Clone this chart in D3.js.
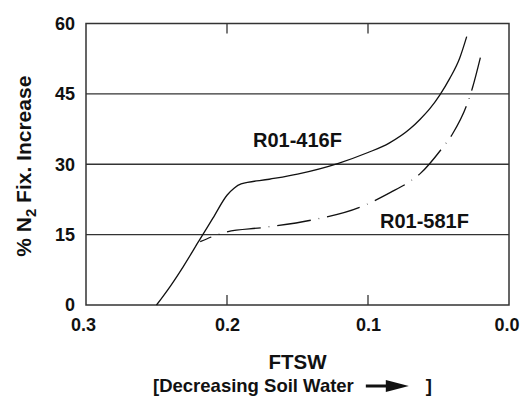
<!DOCTYPE html>
<html><head><meta charset="utf-8">
<script src="https://cdn.jsdelivr.net/npm/d3@7"></script>
<style>body{margin:0;background:#fff}svg{display:block}text{font-family:"Liberation Sans",Arial,sans-serif;font-weight:bold;fill:#111}</style>
</head><body>
<svg id="c" width="520" height="397"></svg>
<script>
const xTicks = [0.3, 0.2, 0.1, 0.0];
const yTicks = [0, 15, 30, 45, 60];
const xTickLabels = ["0.3", "0.2", "0.1", "0.0"];
const seriesNames = ["R01-416F", "R01-581F"];
const ftsw416 = [0.25, 0.24, 0.231, 0.22, 0.21, 0.2, 0.195, 0.19, 0.17, 0.15, 0.121, 0.1, 0.085, 0.07, 0.063, 0.056, 0.049, 0.042, 0.035, 0.03];
const val416  = [0, 4.1, 8.2, 13.6, 18.5, 23.4, 24.9, 25.8, 26.8, 27.9, 30.2, 32.5, 34.5, 37.6, 39.6, 41.9, 44.8, 48.3, 52.6, 57.2];
const ftsw581 = [0.219, 0.2, 0.175, 0.14, 0.106, 0.084, 0.07, 0.063, 0.048, 0.04, 0.03, 0.026, 0.02];
const val581  = [13.5, 15.6, 16.5, 18.1, 20.8, 24.0, 26.4, 28.0, 33.2, 36.5, 42.6, 46.2, 53.1];

const svg = d3.select("#c");
const m = {l: 86, t: 23.5, r: 11, b: 92};
const W = 520 - m.l - m.r, H = 397 - m.t - m.b;
const x = d3.scaleLinear().domain([0.3, 0]).range([m.l, m.l + W]);
const y = d3.scaleLinear().domain([0, 60]).range([m.t + H, m.t]);
const axisColor = "#333";
const FONT = '"Liberation Sans",Arial,sans-serif';

// gridlines
svg.append("g").selectAll("line").data(yTicks.filter(d => d > 0 && d < 60)).join("line")
  .attr("x1", m.l).attr("x2", m.l + W).attr("y1", d => y(d)).attr("y2", d => y(d))
  .attr("stroke", axisColor).attr("stroke-width", 1.3);

// frame
svg.append("rect").attr("x", m.l).attr("y", m.t).attr("width", W).attr("height", H)
  .attr("fill", "none").attr("stroke", axisColor).attr("stroke-width", 1.5);

// inner ticks top & bottom
const inner = xTicks.filter(d => d > 0 && d < 0.3);
svg.append("g").selectAll("line").data(inner).join("line")
  .attr("x1", d => x(d)).attr("x2", d => x(d)).attr("y1", m.t + H).attr("y2", m.t + H - 10)
  .attr("stroke", axisColor).attr("stroke-width", 1.3);
svg.append("g").selectAll("line").data(inner).join("line")
  .attr("x1", d => x(d)).attr("x2", d => x(d)).attr("y1", m.t).attr("y2", m.t + 10)
  .attr("stroke", axisColor).attr("stroke-width", 1.3);

// axes labels via d3 axes (no lines)
const yAxis = svg.append("g").attr("transform", `translate(${m.l},0)`)
  .call(d3.axisLeft(y).tickValues(yTicks).tickSize(0).tickPadding(11).tickFormat(d3.format("d")));
yAxis.select(".domain").remove();
yAxis.selectAll("text").style("font-size", "18px").style("font-family", FONT).style("font-weight", "bold").attr("fill", "#111");

const xAxis = svg.append("g").attr("transform", `translate(0,${m.t + H})`)
  .call(d3.axisBottom(x).tickValues(xTicks).tickSize(0).tickPadding(13).tickFormat((d, i) => xTickLabels[i]));
xAxis.select(".domain").remove();
xAxis.selectAll("text").style("font-size", "18px").style("font-family", FONT).style("font-weight", "bold").attr("fill", "#111");
xAxis.selectAll("text").filter(d => d === 0).attr("text-anchor", "end").attr("x", 10);
xAxis.selectAll("text").filter(d => d === 0.3).attr("x", -3);

// lines
const line = d3.line().x(d => x(d[0])).y(d => y(d[1])).curve(d3.curveMonotoneX);
svg.append("path").datum(ftsw416.map((f, i) => [f, val416[i]]))
  .attr("d", line).attr("fill", "none").attr("stroke", "#111").attr("stroke-width", 1.3).attr("stroke-linejoin", "round");
svg.append("path").datum(ftsw581.map((f, i) => [f, val581[i]]))
  .attr("d", line).attr("fill", "none").attr("stroke", "#111").attr("stroke-width", 1.3)
  .attr("stroke-dasharray", "34,8,0.6,8").attr("stroke-dashoffset", 22);

// series labels
svg.append("text").attr("x", 253).attr("y", 147).style("font-size", "20px").text(seriesNames[0]);
svg.append("text").attr("x", 380).attr("y", 227.5).style("font-size", "20px").text(seriesNames[1]);

// y title
const yt = svg.append("text").attr("transform", `translate(31,${m.t + H / 2 + 2}) rotate(-90)`)
  .attr("text-anchor", "middle").style("font-size", "21px");
yt.append("tspan").text("% N");
yt.append("tspan").attr("dy", 5).style("font-size", "15px").text("2");
yt.append("tspan").attr("dy", -5).text(" Fix. Increase");

// x title
const cx = m.l + W / 2;
svg.append("text").attr("x", cx).attr("y", 369).attr("text-anchor", "middle").style("font-size", "20.5px").text("FTSW");
const t2 = svg.append("text").attr("x", 153).attr("y", 392).style("font-size", "18.5px").text("[Decreasing Soil Water");
const w2 = t2.node().getComputedTextLength();
const ax0 = 153 + w2 + 12, ay = 386;
svg.append("line").attr("x1", ax0).attr("x2", ax0 + 24).attr("y1", ay).attr("y2", ay).attr("stroke", "#111").attr("stroke-width", 3);
svg.append("path").attr("d", `M${ax0 + 20},${ay - 6}L${ax0 + 43},${ay}L${ax0 + 20},${ay + 6}Z`).attr("fill", "#111");
svg.append("text").attr("x", ax0 + 60).attr("y", 392).style("font-size", "18.5px").text("]");
</script>
</body></html>
